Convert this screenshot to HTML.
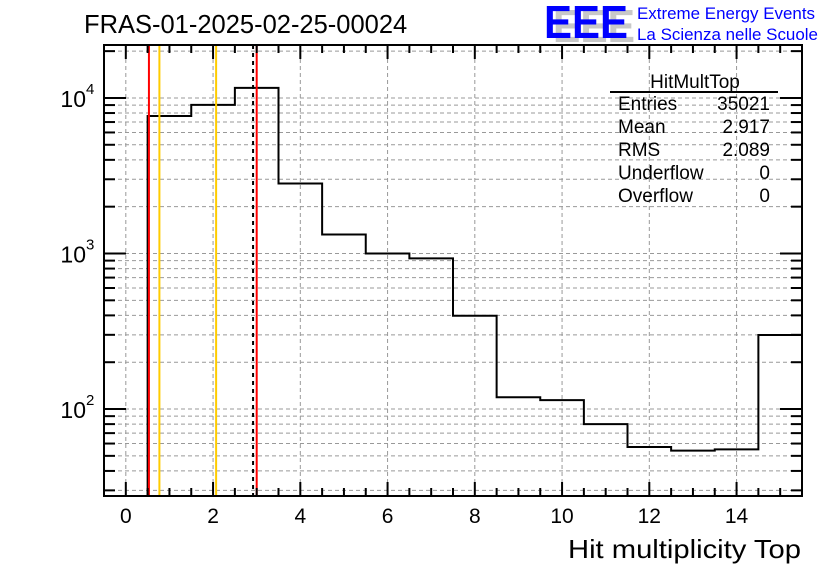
<!DOCTYPE html>
<html><head><meta charset="utf-8"><style>
body{margin:0;background:#fff}
svg text{font-family:"Liberation Sans",Arial,sans-serif}
</style></head><body>
<svg id="c" width="836" height="572" xmlns="http://www.w3.org/2000/svg">
<rect width="836" height="572" fill="#fff"/>
<text x="84" y="33" font-size="25.5" fill="#000">FRAS-01-2025-02-25-00024</text>
<g>
<text x="553" y="42" font-size="46" font-weight="bold" fill="#c8c8c8" textLength="82" lengthAdjust="spacingAndGlyphs">EEE</text>
<text x="544" y="38" font-size="46" font-weight="bold" fill="#0000ff" textLength="84" lengthAdjust="spacingAndGlyphs">EEE</text>
<text x="637" y="19" font-size="16.5" fill="#0000ff" textLength="178" lengthAdjust="spacingAndGlyphs">Extreme Energy Events</text>
<text x="637" y="40" font-size="16.5" fill="#0000ff" textLength="181" lengthAdjust="spacingAndGlyphs">La Scienza nelle Scuole</text>
</g>
<g id="grid"></g>
<g id="marks"></g>
<g id="axes"></g>
<g font-size="19" fill="#000">
<text x="695" y="88" text-anchor="middle">HitMultTop</text>
<line x1="610" y1="92" x2="778" y2="92" stroke="#000" stroke-width="2"/>
<text x="618" y="110">Entries</text><text x="770" y="110" text-anchor="end">35021</text>
<text x="618" y="133">Mean</text><text x="770" y="133" text-anchor="end">2.917</text>
<text x="618" y="156">RMS</text><text x="770" y="156" text-anchor="end">2.089</text>
<text x="618" y="179">Underflow</text><text x="770" y="179" text-anchor="end">0</text>
<text x="618" y="202">Overflow</text><text x="770" y="202" text-anchor="end">0</text>
</g>
<text x="801" y="558" font-size="26" text-anchor="end" textLength="233" lengthAdjust="spacingAndGlyphs">Hit multiplicity Top</text>
</svg>
<script>
const binCenters=[0,1,2,3,4,5,6,7,8,9,10,11,12,13,14,15];
const counts=[0,7660,9020,11600,2820,1325,1000,930,398,119,114,80,57,54,55,299];
const xTicks=[0,2,4,6,8,10,12,14];
const yTicks=[100,1000,10000];
const vLines=[{v:0.53,c:"#ff0000",d:""},{v:0.77,c:"#ffcc00",d:""},{v:2.07,c:"#ffcc00",d:""},{v:2.917,c:"#000",d:"4,4"},{v:3.0,c:"#ff0000",d:""}];
const X0=104,X1=802,Y0=45,Y1=496,xmin=-0.5,xmax=15.5;
const ymin=Math.log10(27.6),ymax=Math.log10(21900);
const sx=v=>X0+(v-xmin)/(xmax-xmin)*(X1-X0);
const sy=v=>Y1-(Math.log10(v)-ymin)/(ymax-ymin)*(Y1-Y0);
const NS="http://www.w3.org/2000/svg";
function mk(t,a,p){const e=document.createElementNS(NS,t);for(const k in a)e.setAttribute(k,a[k]);p.appendChild(e);return e;}
const grid=document.getElementById('grid'),marks=document.getElementById('marks'),axes=document.getElementById('axes');
for(const t of xTicks){const l=mk('line',{x1:sx(t),x2:sx(t),y1:Y0,y2:Y1,stroke:'#999','stroke-dasharray':'4,3','stroke-width':1},grid);

}
for(let d=1;d<=4;d++)for(let m=1;m<=9;m++){const v=m*Math.pow(10,d);if(v<27.6||v>21900)continue;
const y=sy(v);const l=mk('line',{x1:X0,x2:X1,y1:y,y2:y,stroke:'#999','stroke-dasharray':'4,3','stroke-width':1},grid);


const t1=mk('line',{x1:X0,x2:X0+(m==1?22:11),y1:y,y2:y,stroke:'#000','stroke-width':2},axes);


const t2=mk('line',{x1:X1,x2:X1-(m==1?22:11),y1:y,y2:y,stroke:'#000','stroke-width':2},axes);

}
let d='';
binCenters.forEach((c,i)=>{const v=counts[i];const xa=sx(c-0.5),xb=sx(c+0.5);
if(v<=0){return;}const y=sy(v);
const prev=i>0&&counts[i-1]>0?sy(counts[i-1]):Y1;
d+=(d?'':'M'+xa+','+Y1)+' L'+xa+','+prev+' L'+xa+','+y+' L'+xb+','+y;});
const h=mk('path',{d:d,fill:'none',stroke:'#000','stroke-width':2},marks);


for(const L of vLines){const l=mk('line',{x1:sx(L.v),x2:sx(L.v),y1:Y0,y2:Y1,stroke:L.c,'stroke-width':2,'stroke-dasharray':L.d},marks);

}
const f=mk('rect',{x:X0,y:Y0,width:X1-X0,height:Y1-Y0,fill:'none',stroke:'#000','stroke-width':2},axes);


for(let v=-0.5;v<=15.5;v+=0.5){const maj=Math.abs(v%2)<1e-9;const len=maj?14:8;
const a=mk('line',{x1:sx(v),x2:sx(v),y1:Y1,y2:Y1-len,stroke:'#000','stroke-width':2},axes);


const b=mk('line',{x1:sx(v),x2:sx(v),y1:Y0,y2:Y0+len,stroke:'#000','stroke-width':2},axes);

}
for(const t of xTicks){const e=mk('text',{x:sx(t),y:523,'font-size':21,'text-anchor':'middle'},axes);e.textContent=t;

}
for(const t of yTicks){const y=sy(t);const e=mk('text',{x:86,y:y+9,'font-size':23,'text-anchor':'end'},axes);e.textContent='10';


const s=mk('text',{x:86,y:y-4,'font-size':15},axes);s.textContent=String(Math.round(Math.log10(t)));

}
</script>
</body></html>
